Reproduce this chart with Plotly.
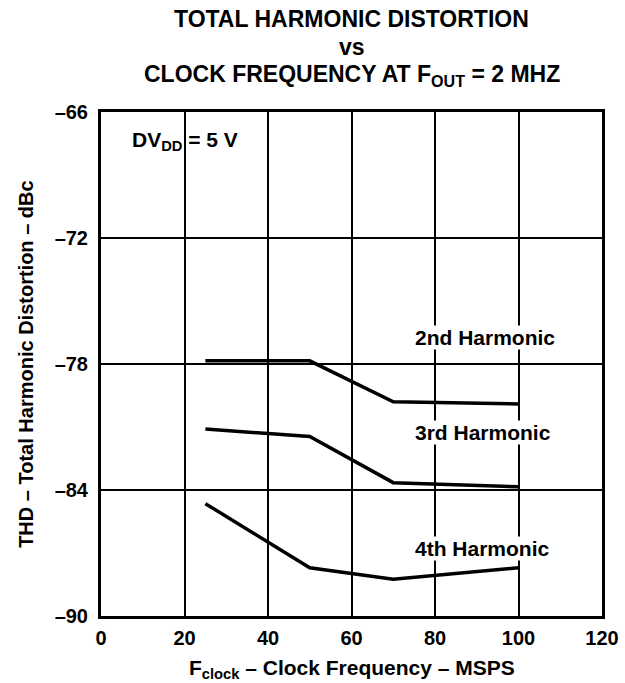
import plotly.graph_objects as go

clock_msps = [25, 50, 70, 100]
harmonic_2nd = [-77.85, -77.85, -79.8, -79.9]
harmonic_3rd = [-81.1, -81.45, -83.65, -83.85]
harmonic_4th = [-84.65, -87.7, -88.25, -87.7]

x_ticks = [0, 20, 40, 60, 80, 100, 120]
y_ticks = [-90, -84, -78, -72, -66]

FONT = "Liberation Sans, Arial, sans-serif"
BLACK = "black"

fig = go.Figure()
for name, vals in [("2nd Harmonic", harmonic_2nd),
                   ("3rd Harmonic", harmonic_3rd),
                   ("4th Harmonic", harmonic_4th)]:
    fig.add_trace(go.Scatter(
        x=clock_msps, y=vals, mode="lines", name=name,
        line=dict(color=BLACK, width=3.5),
    ))

# curve labels (white box breaks the grid behind them)
for text, y in [("2nd Harmonic", -76.75), ("3rd Harmonic", -81.28), ("4th Harmonic", -86.77)]:
    fig.add_annotation(
        x=75, y=y, xanchor="left", yanchor="middle", text=f"<b>{text}</b>",
        showarrow=False, font=dict(family=FONT, size=21, color=BLACK),
        bgcolor="white", borderpad=0,
    )

fig.add_annotation(
    x=6.9, y=-67.4, xanchor="left", yanchor="middle",
    text="<b>DV<sub>DD</sub> = 5 V</b>",
    showarrow=False, font=dict(family=FONT, size=21, color=BLACK),
)

# three-line title
for text, y in [("<b>TOTAL HARMONIC DISTORTION</b>", 1.1845),
                ("<b>vs</b>", 1.128),
                ("<b>CLOCK FREQUENCY AT F<sub>OUT</sub> = 2 MHZ</b>", 1.072)]:
    fig.add_annotation(
        x=0.5, y=y, xref="paper", yref="paper", xanchor="center", yanchor="middle",
        text=text, showarrow=False,
        font=dict(family=FONT, size=23, color=BLACK),
    )

# axis titles
fig.add_annotation(
    x=0.5, y=-0.106, xref="paper", yref="paper", xanchor="center", yanchor="middle",
    showarrow=False, text="<b>F<sub>clock</sub> – Clock Frequency – MSPS</b>",
    font=dict(family=FONT, size=21, color=BLACK),
)
fig.add_annotation(
    x=-0.15, y=0.5, xref="paper", yref="paper", xanchor="center", yanchor="middle",
    showarrow=False, textangle=-90,
    text="<b>THD – Total Harmonic Distortion – dBc</b>",
    font=dict(family=FONT, size=20, color=BLACK),
)

axis_common = dict(
    showgrid=True, gridcolor=BLACK, gridwidth=1.5,
    showline=True, linecolor=BLACK, linewidth=3, mirror=True,
    zeroline=False, ticks="", automargin=False, ticklabeloverflow="allow",
    tickfont=dict(family=FONT, size=20, color=BLACK),
)

fig.update_layout(
    width=625, height=683,
    margin=dict(l=101, r=23, t=112, b=67),
    paper_bgcolor="white", plot_bgcolor="white",
    showlegend=False,
    font=dict(family=FONT, color=BLACK),
    xaxis=dict(range=[0, 120], tickvals=x_ticks, ticklabelstandoff=2,
               ticktext=[f"<b>{v}</b>" for v in x_ticks], **axis_common),
    yaxis=dict(range=[-90, -66], tickvals=y_ticks, ticklabelstandoff=6,
               ticktext=[f"<b>–{abs(v)}</b>" for v in y_ticks], **axis_common),
)

# drop the page's default body margin so the figure fills the window
fig.write_html("out.html", config={"displayModeBar": False},
               post_script="document.body.style.margin = '0';")
